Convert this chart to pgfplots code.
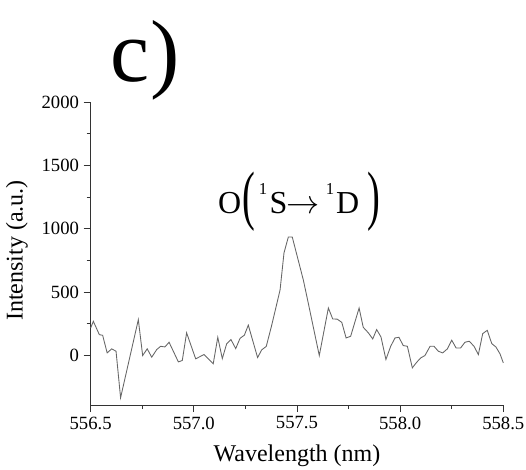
\documentclass[border=0pt]{standalone}
\usepackage{pgfplots}
\pgfplotsset{compat=1.18}
\usepackage{graphicx}
\usepackage{fontspec}
\setmainfont{Liberation Serif}
\newcommand{\bigparen}[1]{\raisebox{-0.14em}{\scalebox{1.2}[2.05]{#1}}}
\newcommand{\supone}{\raisebox{0.58em}{\fontsize{12.5}{12.5}\selectfont 1}}
\begin{document}
\begin{tikzpicture}
\begin{axis}[
  name=ax,
  at={(0,0)}, anchor=south west,
  scale only axis,
  width=309.5pt, height=227.25pt,
  xmin=556.5, xmax=558.5,
  ymin=-390, ymax=2000,
  axis lines*=left,
  axis line style={draw=black!80, line width=0.6pt},
  tick align=outside,
  tick style={draw=black!80, line width=0.6pt},
  major tick length=5.25pt,
  minor tick length=3pt,
  xtick={556.5,557,557.5,558,558.5},
  ytick={0,500,1000,1500,2000},
  minor x tick num=1,
  minor y tick num=1,
  scaled x ticks=false, scaled y ticks=false,
  /pgf/number format/assume math mode=true,
  xticklabel style={font=\fontsize{14}{16}\selectfont, /pgf/number format/.cd, fixed, fixed zerofill, precision=1, 1000 sep={}},
  yticklabel style={font=\fontsize{14}{16}\selectfont, /pgf/number format/.cd, fixed, 1000 sep={}},
  xlabel={Wavelength (nm)},
  ylabel={Intensity (a.u.)},
  label style={font=\fontsize{18}{20}\selectfont},
  xlabel style={at={(axis description cs:0.5,0)}, anchor=base, yshift=-42.5pt},
  ylabel style={at={(axis description cs:0,0.51)}, anchor=base, yshift=51pt},
  clip=false,
]
\addplot[color=black!60, line width=0.65pt] coordinates {
(556.500,218) (556.513,270) (556.542,165) (556.558,160) (556.580,21)
(556.602,53) (556.623,34) (556.645,-333) (556.731,283) (556.752,0)
(556.774,53) (556.796,-13) (556.820,47) (556.839,73) (556.860,68)
(556.880,105) (556.925,-50) (556.944,-39) (556.965,179) (557.009,-26)
(557.049,8) (557.094,-65) (557.116,144) (557.138,-24) (557.159,92)
(557.180,126) (557.203,55) (557.224,136) (557.245,161) (557.264,240)
(557.309,-16) (557.329,45) (557.351,72) (557.376,230) (557.398,380)
(557.418,518) (557.437,810) (557.458,935) (557.477,935) (557.506,752)
(557.531,594) (557.555,411) (557.608,0) (557.652,375) (557.673,289)
(557.695,287) (557.717,262) (557.738,139) (557.760,152) (557.801,375)
(557.821,223) (557.846,179) (557.867,131) (557.886,205) (557.907,147)
(557.931,-31) (557.954,73) (557.975,139) (557.994,144) (558.015,79)
(558.035,73) (558.059,-97) (558.080,-53) (558.100,-18) (558.120,0)
(558.145,73) (558.164,73) (558.185,34) (558.206,21) (558.229,53)
(558.250,121) (558.271,60) (558.293,60) (558.314,105) (558.335,113)
(558.358,73) (558.379,8) (558.400,173) (558.422,199) (558.444,94)
(558.464,68) (558.484,13) (558.500,-58)
};
\node[anchor=base, inner sep=0pt, font=\fontsize{24}{26}\selectfont] at (axis cs:557.51,1122)
  {O\hspace{0.05em}\bigparen{(}\hspace{0.1em}\supone\hspace{0.08em}S\hspace{-0.02em}$\rightarrow$\hspace{0.18em}\supone\hspace{0.06em}D\hspace{0.25em}\bigparen{)}};
\end{axis}
\node[anchor=base west, inner sep=0pt, font=\fontsize{66}{72}\selectfont] at (15pt,242.5pt) {c)};
\pgfresetboundingbox
\path (-68pt,-48pt) rectangle (326.5pt,303.75pt);
\end{tikzpicture}
\end{document}
